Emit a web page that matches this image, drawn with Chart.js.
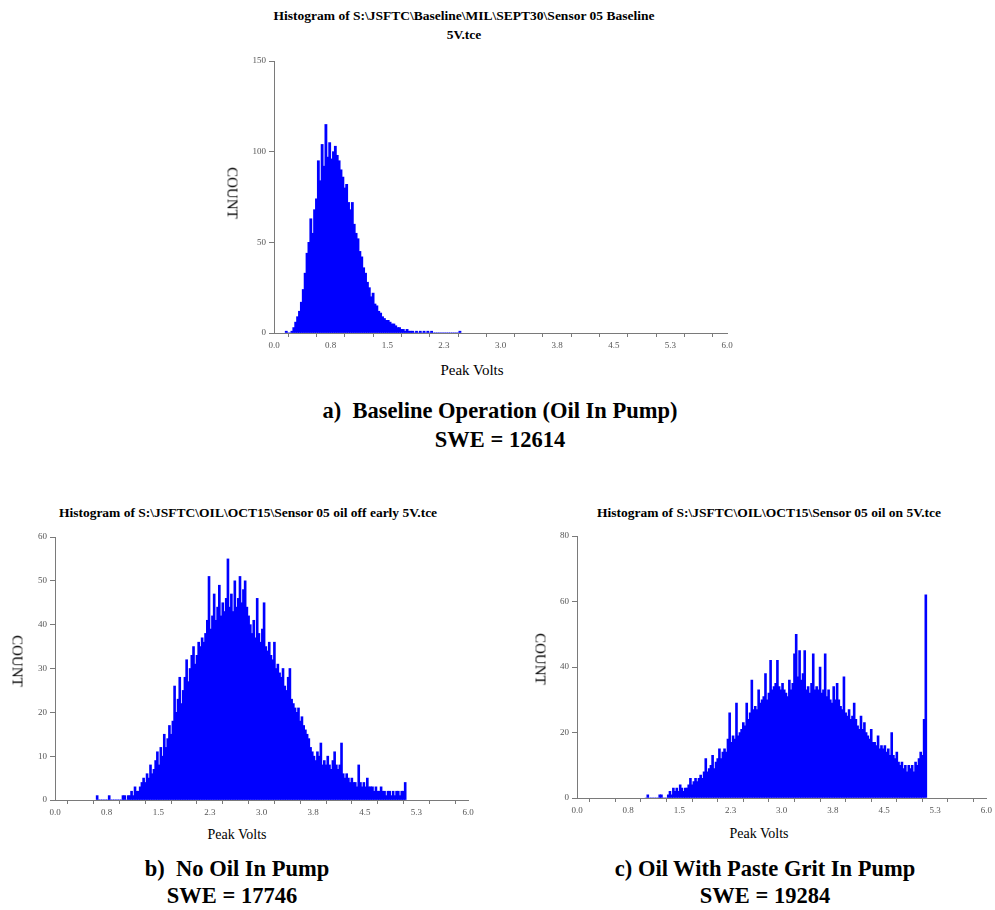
<!DOCTYPE html>
<html>
<head>
<meta charset="utf-8">
<title>Sensor 05 peak volts histograms</title>
<script src="https://cdn.jsdelivr.net/npm/chart.js@4.4.1/dist/chart.umd.min.js"></script>
<style>
  body { margin: 0; background: #fff; }
  #page { position: relative; width: 995px; height: 910px; overflow: hidden;
          font-family: "Liberation Serif", "Times New Roman", serif; color: #000; }
  .txt { position: absolute; transform: translateX(-50%); white-space: nowrap; text-align: center; }
  .title { font-weight: bold; font-size: 13.5px; line-height: 19px; }
  .axis { font-size: 14px; line-height: 17px; }
  .count { position: absolute; transform: translate(-50%, -50%) rotate(90deg); font-size: 15px; white-space: nowrap; }
  .caption { font-weight: bold; font-size: 22.5px; line-height: 29px; }
  canvas { position: absolute; }
</style>
</head>
<body>
<div id="page">
  <div class="txt title" style="left:464px; top:6px;">Histogram of S:\JSFTC\Baseline\MIL\SEPT30\Sensor 05 Baseline<br>5V.tce</div>
  <canvas id="chartA" width="515" height="310" style="left:224px; top:50px;"></canvas>
  <div class="count" style="left:232px; top:193px;">COUNT</div>
  <div class="txt axis" style="left:472px; top:362px; font-size:15px;">Peak Volts</div>
  <div class="txt caption" style="left:500px; top:396px;">a)&nbsp; Baseline Operation (Oil In Pump)<br>SWE = 12614</div>

  <div class="txt title" style="left:248px; top:503px;">Histogram of S:\JSFTC\OIL\OCT15\Sensor 05 oil off early 5V.tce</div>
  <canvas id="chartB" width="460" height="300" style="left:20px; top:525px;"></canvas>
  <div class="count" style="left:17px; top:661px;">COUNT</div>
  <div class="txt axis" style="left:237px; top:826px;">Peak Volts</div>
  <div class="txt caption" style="left:237px; top:854px;">b)&nbsp; No Oil In Pump</div>
  <div class="txt caption" style="left:232px; top:881px;">SWE = 17746</div>

  <div class="txt title" style="left:769px; top:503px;">Histogram of S:\JSFTC\OIL\OCT15\Sensor 05 oil on 5V.tce</div>
  <canvas id="chartC" width="450" height="300" style="left:545px; top:524px;"></canvas>
  <div class="count" style="left:540px; top:659px;">COUNT</div>
  <div class="txt axis" style="left:759px; top:825px;">Peak Volts</div>
  <div class="txt caption" style="left:765px; top:854px;">c) Oil With Paste Grit In Pump</div>
  <div class="txt caption" style="left:765px; top:881px;">SWE = 19284</div>
</div>

<script>
// --- Histogram data: counts per 0.025 V bin ---
const BIN_WIDTH = 0.025;

// a) baseline, first bin starts at 0.150 V
const baselineStart = 0.150;
const baselineCounts = [
    1, 0, 0, 1, 3, 6, 9, 12, 17, 24, 33, 44, 50, 63, 55, 68, 74, 95, 84, 104,
    92, 115, 97, 105, 96, 100, 103, 98, 95, 90, 86, 80, 82, 72, 68, 72, 60, 55, 52, 45,
    42, 36, 33, 28, 25, 20, 22, 16, 15, 12, 11, 9, 8, 7, 7, 6, 5, 5, 4, 3,
    3, 2, 2, 1, 2, 1, 1, 1, 0, 1, 0, 1, 0, 1, 0, 1, 0, 1, 0, 0,
    0, 0, 0, 0, 0, 0, 0, 0, 0, 0, 0, 0, 1
];

// b) no oil, first bin starts at 0.600 V
const oilOffStart = 0.600;
const oilOffCounts = [
    1, 0, 0, 0, 0, 0, 0, 1, 0, 0, 0, 0, 0, 0, 0, 1, 1, 0, 1, 1,
    2, 1, 3, 2, 2, 3, 4, 5, 4, 6, 5, 8, 6, 7, 9, 11, 8, 12, 10, 15,
    12, 14, 17, 15, 18, 26, 20, 23, 28, 22, 25, 28, 32, 27, 30, 33, 35, 31, 33, 36,
    35, 37, 36, 38, 41, 51, 39, 42, 47, 41, 44, 49, 42, 45, 43, 46, 55, 44, 47, 43,
    50, 44, 46, 51, 45, 48, 50, 44, 42, 40, 38, 41, 37, 46, 38, 36, 39, 45, 35, 34,
    36, 33, 32, 36, 30, 31, 29, 28, 30, 26, 25, 28, 30, 23, 22, 21, 20, 21, 18, 19,
    17, 16, 15, 14, 12, 11, 10, 9, 11, 10, 13, 8, 9, 8, 10, 8, 7, 9, 11, 8,
    7, 8, 13, 6, 5, 6, 5, 4, 5, 4, 4, 3, 8, 4, 3, 4, 3, 5, 3, 3,
    3, 2, 3, 2, 2, 3, 2, 2, 1, 2, 2, 1, 2, 1, 2, 2, 1, 2, 2, 4
];

// c) oil with paste grit, first bin starts at 1.000 V
const pasteGritStart = 1.000;
const pasteGritCounts = [
    0, 1, 0, 0, 0, 0, 0, 0, 1, 1, 0, 0, 0, 1, 2, 1, 3, 2, 3, 2,
    4, 3, 2, 3, 3, 4, 6, 4, 5, 6, 5, 6, 7, 6, 8, 12, 8, 9, 10, 13,
    9, 11, 12, 15, 12, 14, 15, 14, 18, 26, 17, 19, 18, 29, 19, 20, 21, 23, 22, 29,
    24, 26, 36, 27, 28, 27, 33, 29, 30, 31, 38, 30, 32, 42, 33, 34, 35, 42, 34, 33,
    35, 33, 32, 31, 36, 33, 35, 44, 50, 37, 45, 36, 38, 45, 33, 34, 32, 35, 44, 33,
    34, 33, 40, 32, 33, 44, 31, 33, 30, 29, 34, 30, 35, 30, 28, 27, 37, 26, 25, 27,
    24, 25, 29, 24, 22, 21, 25, 21, 23, 20, 19, 18, 21, 17, 17, 16, 19, 15, 16, 15,
    16, 14, 15, 13, 20, 13, 12, 14, 11, 10, 11, 9, 10, 8, 10, 9, 10, 8, 11, 10,
    12, 14, 13, 24, 62
];

// --- Axis labels ---
const voltTickLabels = ['0.0', '0.8', '1.5', '2.3', '3.0', '3.8', '4.5', '5.3', '6.0'];
const baselineYMax = 150, baselineYStep = 50;
const oilOffYMax = 60, oilOffYStep = 10;
const pasteGritYMax = 80, pasteGritYStep = 20;

const AXIS_GREY = '#7a7a7a';
const tickFont = { family: 'Liberation Serif', size: 9 };

function toPoints(start, counts) {
    // bar sits at the centre of its bin
    return counts.map((c, i) => ({ x: start + (i + 0.5) * BIN_WIDTH, y: c }));
}

function renderHistogram(canvasId, start, counts, yMax, yStep, box) {
    const ctx = document.getElementById(canvasId).getContext('2d');
    return new Chart(ctx, {
        type: 'bar',
        data: {
            datasets: [{
                data: toPoints(start, counts),
                backgroundColor: 'rgb(0, 0, 255)',
                borderWidth: 0,
                barThickness: 'flex',   // width from neighbouring bins, not from tick spacing
                barPercentage: 1.15,
                categoryPercentage: 1
            }]
        },
        options: {
            responsive: false,
            animation: false,
            layout: { padding: { left: 0, right: box.right, top: box.top, bottom: 0 } },
            plugins: { legend: { display: false }, tooltip: { enabled: false } },
            scales: {
                x: {
                    type: 'linear',
                    offset: false,
                    min: 0,
                    max: 6,
                    afterFit: (scale) => { scale.height = box.xHeight; },
                    border: { display: true, color: AXIS_GREY, width: 1 },
                    grid: { display: true, drawOnChartArea: false, drawTicks: true, tickLength: 4, color: AXIS_GREY },
                    ticks: {
                        stepSize: 0.375,
                        autoSkip: false,
                        maxRotation: 0,
                        padding: 3,
                        color: '#555',
                        font: tickFont,
                        callback: (v, i) => (i % 2 === 0 ? voltTickLabels[i / 2] : '')
                    }
                },
                y: {
                    min: 0,
                    max: yMax,
                    afterFit: (scale) => { scale.width = box.yWidth; },
                    border: { display: true, color: AXIS_GREY, width: 1 },
                    grid: { display: true, drawOnChartArea: false, drawTicks: true, tickLength: 5, color: AXIS_GREY },
                    ticks: { stepSize: yStep, padding: 3, color: '#555', font: tickFont }
                }
            }
        }
    });
}

renderHistogram('chartA', baselineStart, baselineCounts, baselineYMax, baselineYStep,
    { right: 12, top: 11, xHeight: 27, yWidth: 50 });
renderHistogram('chartB', oilOffStart, oilOffCounts, oilOffYMax, oilOffYStep,
    { right: 12, top: 12, xHeight: 25, yWidth: 35 });
renderHistogram('chartC', pasteGritStart, pasteGritCounts, pasteGritYMax, pasteGritYStep,
    { right: 6, top: 12, xHeight: 26, yWidth: 32 });
</script>
</body>
</html>
